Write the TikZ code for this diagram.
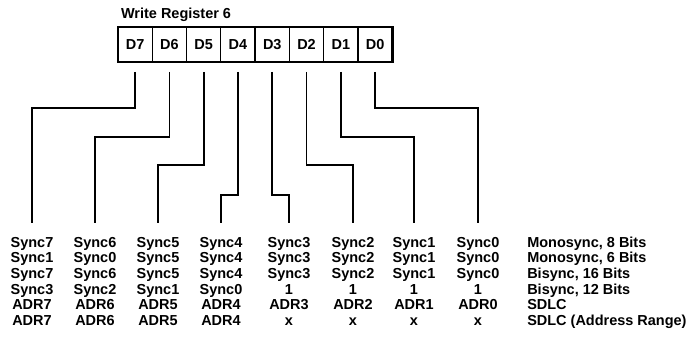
\documentclass[tikz,border=0pt]{standalone}
\usepackage{fontspec}
\setmainfont{Liberation Sans}
\usetikzlibrary{positioning}

\begin{document}
\begin{tikzpicture}[
    every node/.style={font=\fontsize{10.3}{12}\selectfont\bfseries},
    bit/.style={draw, line width=0.9pt, minimum width=0.857cm, minimum height=0.875cm, inner sep=0pt, outer sep=0pt},
    entry/.style={inner sep=0pt, text height=1.6ex, text depth=0.45ex},
    wire/.style={line width=1.3pt}
  ]
    \useasboundingbox (0,0) rectangle (17.25,8.575);

    \node[bit] (d7) at (3.3785,7.4625) {D7};
    \node[bit, right=0pt of d7] (d6) {D6};
    \node[bit, right=0pt of d6] (d5) {D5};
    \node[bit, right=0pt of d5] (d4) {D4};
    \node[bit, right=0pt of d4] (d3) {D3};
    \node[bit, right=0pt of d3] (d2) {D2};
    \node[bit, right=0pt of d2] (d1) {D1};
    \node[bit, right=0pt of d1] (d0) {D0};
    \draw[line width=2pt] (d7.north west) rectangle (d0.south east);
    \node[entry, anchor=west] (title) at ([xshift=0.07cm, yshift=0.325cm]d7.north west) {Write Register 6};

    \foreach \i/\x/\y in {7/0.8/5.88, 6/2.375/5.14, 5/3.95/4.45, 4/5.525/3.7, 3/7.225/3.7, 2/8.825/4.45, 1/10.35/5.14, 0/11.95/5.88} {
        \coordinate (k\i) at (\x,\y);
        \coordinate (b\i) at (\x,3);
    }
    \foreach \i in {7,...,0}
        \draw[wire] ([yshift=-0.25cm]d\i.south) |- (k\i) -- (b\i);

    \foreach \row [count=\r] in {
        {Sync7,Sync6,Sync5,Sync4,Sync3,Sync2,Sync1,Sync0},
        {Sync1,Sync0,Sync5,Sync4,Sync3,Sync2,Sync1,Sync0},
        {Sync7,Sync6,Sync5,Sync4,Sync3,Sync2,Sync1,Sync0},
        {Sync3,Sync2,Sync1,Sync0,1,1,1,1},
        {ADR7,ADR6,ADR5,ADR4,ADR3,ADR2,ADR1,ADR0},
        {ADR7,ADR6,ADR5,ADR4,x,x,x,x}}
      \foreach \t [count=\c] in \row {
        \pgfmathtruncatemacro{\i}{8-\c}
        \path (b\i) ++(0,{-0.11-0.39*\r}) node[entry] (e\r\i) {\t};
      }

    \foreach \lab [count=\r] in {{Monosync, 8 Bits}, {Monosync, 6 Bits}, {Bisync, 16 Bits}, {Bisync, 12 Bits}, SDLC, {SDLC (Address Range)}}
        \node[entry, anchor=west] (m\r) at (13.175,{2.89-0.39*\r}) {\lab};
\end{tikzpicture}
\end{document}
